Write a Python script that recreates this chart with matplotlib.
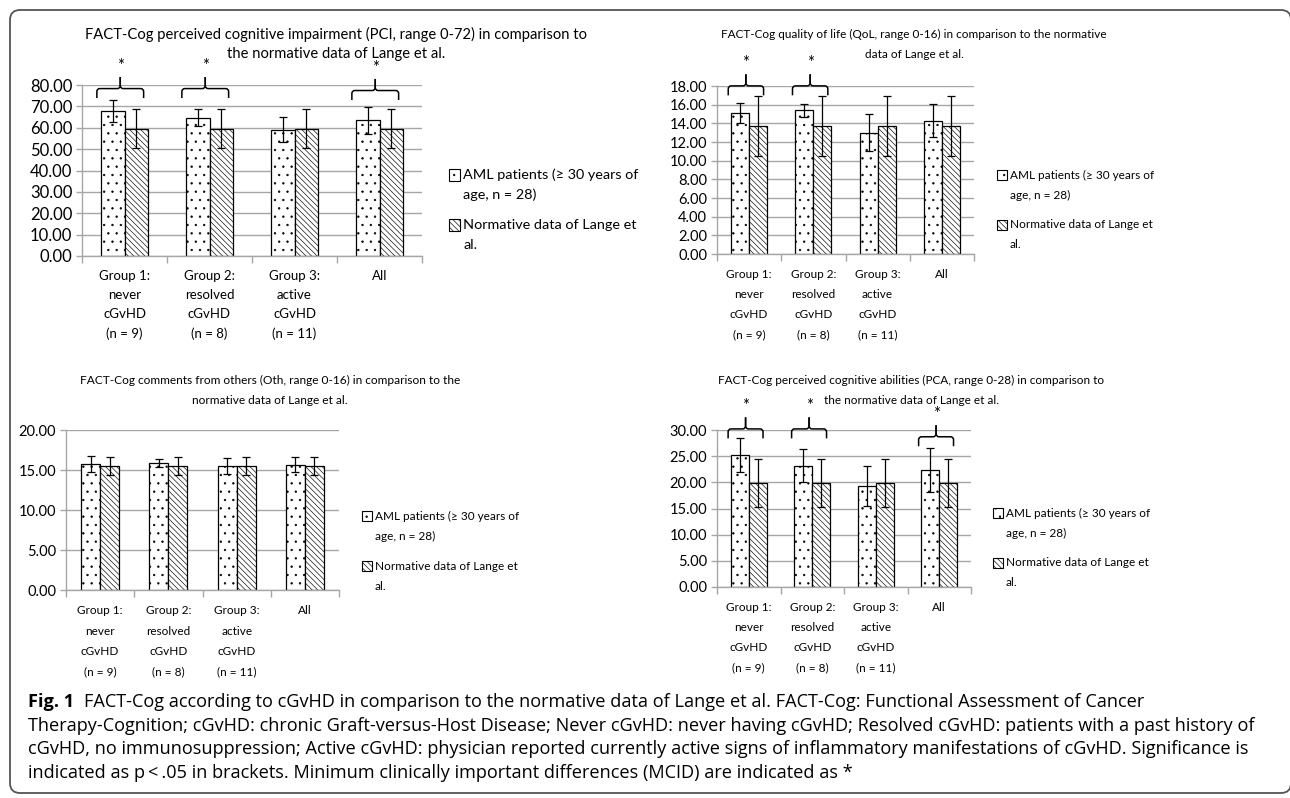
import matplotlib
matplotlib.use("Agg")
import matplotlib.pyplot as plt
from matplotlib.patches import Rectangle, FancyBboxPatch, PathPatch
from matplotlib.path import Path
from matplotlib.transforms import IdentityTransform

plt.rcParams['font.family'] = ['Lato', 'DejaVu Sans']
plt.rcParams['hatch.linewidth'] = 0.45

W, H = 1290, 798

groups = ["Group 1:\nnever\ncGvHD\n(n = 9)", "Group 2:\nresolved\ncGvHD\n(n = 8)",
          "Group 3:\nactive\ncGvHD\n(n = 11)", "All"]
series = ["AML patients (\u2265 30 years of\nage, n = 28)", "Normative data of Lange et\nal."]

# PCI, range 0-72
pci_aml = [67.7, 64.7, 59.1, 63.4]
pci_aml_sd = [5.2, 4.0, 5.7, 6.3]
pci_norm = [59.6, 59.6, 59.6, 59.6]
pci_norm_sd = [9.1, 9.1, 9.1, 9.1]
pci_mcid = [0, 1, 3]

# QoL, range 0-16
qol_aml = [15.1, 15.4, 13.0, 14.3]
qol_aml_sd = [1.1, 0.7, 1.95, 1.8]
qol_norm = [13.7, 13.7, 13.7, 13.7]
qol_norm_sd = [3.2, 3.2, 3.2, 3.2]
qol_mcid = [0, 1]

# Oth, range 0-16
oth_aml = [15.75, 15.85, 15.45, 15.65]
oth_aml_sd = [1.0, 0.5, 1.0, 0.95]
oth_norm = [15.5, 15.5, 15.5, 15.5]
oth_norm_sd = [1.17, 1.17, 1.17, 1.17]
oth_mcid = []

# PCA, range 0-28
pca_aml = [25.2, 23.2, 19.3, 22.3]
pca_aml_sd = [3.3, 3.15, 3.9, 4.2]
pca_norm = [19.8, 19.8, 19.8, 19.8]
pca_norm_sd = [4.6, 4.6, 4.6, 4.6]
pca_mcid = [0, 1, 3]

titles = [
    "FACT-Cog perceived cognitive impairment (PCI, range 0-72) in comparison to\nthe normative data of Lange et al.",
    "FACT-Cog quality of life (QoL, range 0-16) in comparison to the normative\ndata of Lange et al.",
    "FACT-Cog comments from others (Oth, range 0-16) in comparison to the\nnormative data of Lange et al.",
    "FACT-Cog perceived cognitive abilities (PCA, range 0-28) in comparison to\nthe normative data of Lange et al.",
]

GRID = '#a6a6a6'
hatches = ['..', '\\\\\\\\\\\\']

fig = plt.figure(figsize=(W / 100, H / 100), dpi=100)


def fx(x):
    return x / W


def fy(y):
    return 1 - y / H


def brace(ax, xc, y0, halfw, ppx, ppy):
    # curly brace, arms at y0, height ~21 px
    h = 21 * ppy
    yh = y0 + 0.45 * h
    yt = y0 + h
    rx, ry = 3 * ppx, 3 * ppy
    for s in (-1, 1):
        xa = xc + s * halfw
        verts = [(xa, y0), (xa, yh - ry), (xa, yh), (xa - s * rx, yh),
                 (xc + s * rx, yh), (xc, yh), (xc, yh + ry), (xc, yt)]
        codes = [Path.MOVETO, Path.LINETO, Path.CURVE3, Path.CURVE3,
                 Path.LINETO, Path.CURVE3, Path.CURVE3, Path.LINETO]
        ax.add_patch(PathPatch(Path(verts, codes), fill=False, lw=1.1,
                               ec='black', clip_on=False))
    ax.text(xc, yt + 11 * ppy, '*', ha='center', va='center', fontsize=12,
            clip_on=False)


def chart(box, aml, aml_sd, norm, norm_sd, ymax, step, mcid, brace_y,
          ytick_fs, xtick_fs, xlinesp, xpad):
    x0, y0, x1, y1 = box
    ax = fig.add_axes([fx(x0), fy(y1), fx(x1 - x0), (y1 - y0) / H])
    w = 0.28
    xs = list(range(len(groups)))
    ax.bar([x - w / 2 for x in xs], aml, w, color='white', edgecolor='black',
           hatch=hatches[0], lw=0.9, zorder=2)
    ax.bar([x + w / 2 for x in xs], norm, w, color='white', edgecolor='black',
           hatch=hatches[1], lw=0.9, zorder=2)
    ax.errorbar([x - w / 2 for x in xs], aml, yerr=aml_sd, fmt='none',
                ecolor='black', elinewidth=0.9, capsize=3, capthick=0.9, zorder=3)
    ax.errorbar([x + w / 2 for x in xs], norm, yerr=norm_sd, fmt='none',
                ecolor='black', elinewidth=0.9, capsize=3, capthick=0.9, zorder=3)
    ax.set_xlim(-0.5, len(groups) - 0.5)
    ax.set_ylim(0, ymax)
    yt = [i * step for i in range(int(round(ymax / step)) + 1)]
    ax.set_yticks(yt)
    ax.set_yticklabels(['%.2f' % v for v in yt], fontsize=ytick_fs)
    ax.set_xticks([i - 0.5 for i in range(len(groups) + 1)])
    ax.set_xticklabels([])
    ax.set_xticks(xs, minor=True)
    ax.set_xticklabels(groups, minor=True, fontsize=xtick_fs, linespacing=xlinesp)
    ax.tick_params(axis='x', which='major', length=5, color=GRID, width=1)
    ax.tick_params(axis='x', which='minor', length=0, pad=xpad)
    ax.tick_params(axis='y', length=4, color=GRID, width=1, pad=3)
    ax.yaxis.grid(True, color=GRID, lw=1.0)
    ax.set_axisbelow(True)
    for s in ('top', 'right'):
        ax.spines[s].set_visible(False)
    for s in ('left', 'bottom'):
        ax.spines[s].set_color(GRID)
        ax.spines[s].set_linewidth(1.0)
    ppx = len(groups) / (x1 - x0)
    ppy = ymax / (y1 - y0)
    for g, yb in zip(mcid, brace_y):
        brace(ax, g - 0.05, yb, 0.275, ppx, ppy)
    return ax


def legend_block(x, y, fs, line_h, gap, sq):
    yy = y
    for k, lab in enumerate(series):
        fig.add_artist(Rectangle((fx(x), fy(yy + sq / 2)), sq / W, sq / H,
                                 transform=fig.transFigure, facecolor='white',
                                 edgecolor='black', lw=0.8, hatch=hatches[k]))
        for j, line in enumerate(lab.split('\n')):
            fig.text(fx(x + sq + 3), fy(yy + j * line_h), line, fontsize=fs,
                     ha='left', va='center')
        yy += line_h * (len(lab.split('\n')) - 1) + gap


def title(cx, cy, text, fs):
    # one Text per line so the boxes stay tight
    for j, line in enumerate(text.split('\n')):
        fig.text(fx(cx), fy(cy + j * 20), line, ha='center', va='center', fontsize=fs)


chart((82, 85, 422, 256), pci_aml, pci_aml_sd, pci_norm, pci_norm_sd, 80, 10,
      pci_mcid, [73.9, 73.9, 73.0], 12, 9.5, 1.72, 10)
chart((717, 86, 974, 254), qol_aml, qol_aml_sd, qol_norm, qol_norm_sd, 18, 2,
      qol_mcid, [17.0, 17.0], 10.5, 8.5, 2.0, 11)
chart((66, 430, 339, 590), oth_aml, oth_aml_sd, oth_norm, oth_norm_sd, 20, 5,
      oth_mcid, [], 10.5, 8.5, 2.05, 11)
ax_last = chart((717, 430, 971, 587), pca_aml, pca_aml_sd, pca_norm, pca_norm_sd, 30, 5,
                pca_mcid, [28.4, 28.4, 26.9], 10.5, 8.5, 2.0, 11)

title(336, 34, titles[0], 10.6)
title(914, 34, titles[1], 8.45)
title(270, 380, titles[2], 8.55)
title(911, 380, titles[3], 8.5)

legend_block(449, 175, 10.4, 20, 30, 11)
legend_block(997, 175, 8.45, 20, 30, 10)
legend_block(362, 516, 8.45, 20, 30, 10)
legend_block(993, 513, 8.45, 20, 30, 10)

# caption
cap_font = ['Open Sans', 'DejaVu Sans']
cap_fs = 13.1
fig_lbl = fig.text(fx(28), fy(702), "Fig. 1", fontsize=cap_fs, fontweight='bold',
                   family=cap_font, va='center')
ax_last.annotate("FACT-Cog according to cGvHD in comparison to the normative data of Lange et al. "
                 "FACT-Cog: Functional Assessment of Cancer",
                 xy=(1, 0.5), xycoords=fig_lbl, xytext=(7, 0), textcoords='offset points',
                 va='center', ha='left', fontsize=cap_fs, family=cap_font,
                 annotation_clip=False)
cap_lines = [
    "Therapy-Cognition; cGvHD: chronic Graft-versus-Host Disease; Never cGvHD: never having cGvHD; "
    "Resolved cGvHD: patients with a past history of",
    "cGvHD, no immunosuppression; Active cGvHD: physician reported currently active signs of "
    "inflammatory manifestations of cGvHD. Significance is",
    "indicated as p\u2009<\u2009.05 in brackets. Minimum clinically important differences (MCID) "
    "are indicated as *",
]
for i, line in enumerate(cap_lines):
    fig.text(fx(28), fy(726 + i * 23.5), line, fontsize=cap_fs, family=cap_font, va='center')

# rounded frame
fig.add_artist(FancyBboxPatch((10, 5), 1281, 783, boxstyle="round,pad=0,rounding_size=10",
                              transform=IdentityTransform(), fill=False, ec='#555555', lw=1.3))

fig.savefig('out.png', dpi=100)
